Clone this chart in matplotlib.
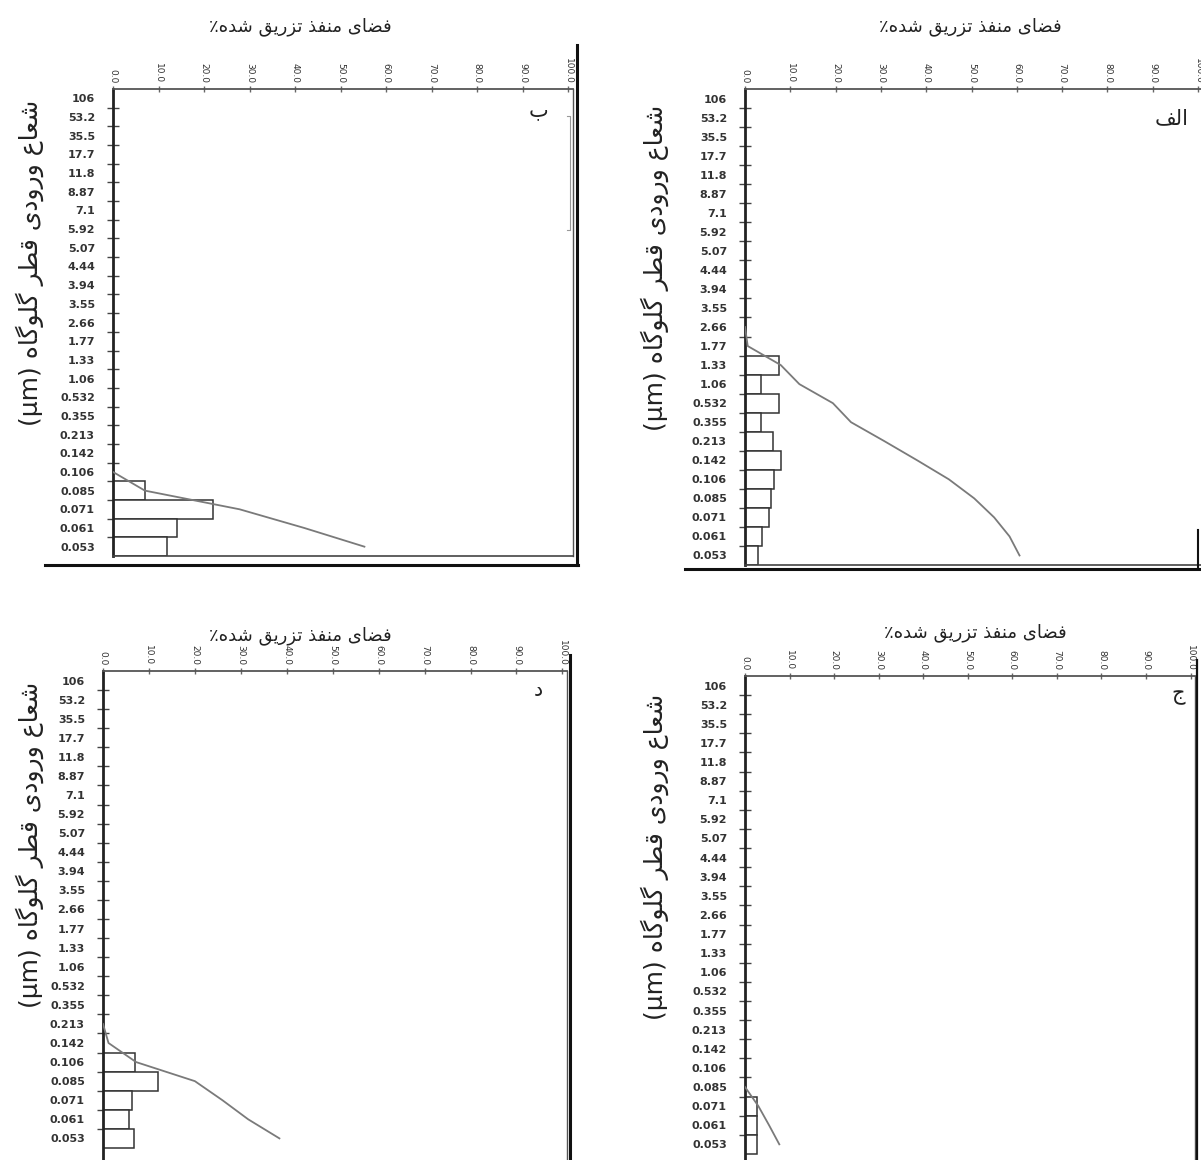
import numpy as np
import matplotlib
matplotlib.use('Agg')
import matplotlib.pyplot as plt

W, H = 1201, 1160

sizes = ['106', '53.2', '35.5', '17.7', '11.8', '8.87', '7.1', '5.92', '5.07', '4.44',
         '3.94', '3.55', '2.66', '1.77', '1.33', '1.06', '0.532', '0.355', '0.213',
         '0.142', '0.106', '0.085', '0.071', '0.061', '0.053']
xticks = [0, 10, 20, 30, 40, 50, 60, 70, 80, 90, 100]

N = None
# panel الف (top right)
alef_bars = [0] * 14 + [7.6, 3.6, 7.6, 3.6, 6.2, 7.9, 6.5, 5.8, 5.2, 3.8, 2.8]
alef_curve = [N] * 12 + [0, 0.6, 7.9, 12.0, 19.4, 23.4, 30.8, 38.0, 45.0, 50.6, 55.0, 58.4, 60.6]
# panel ب (top left)
be_bars = [0] * 21 + [7.1, 21.9, 14.0, 11.8]
be_curve = [N] * 20 + [0, 7.0, 27.8, 42.0, 55.2]
# panel ج (bottom right)
jim_bars = [0] * 22 + [2.6, 2.6, 2.6]
jim_curve = [N] * 21 + [0, 3.0, 5.4, 7.7]
# panel د (bottom left)
dal_bars = [0] * 20 + [7.0, 12.0, 6.4, 5.6, 6.8]
dal_curve = [N] * 18 + [0, 1.2, 7.2, 20.0, 26.0, 31.6, 38.4]

title_txt = 'فضای منفذ تزریق شده٪'
ylabel_txt = 'شعاع ورودی قطر گلوگاه'

# matplotlib does no arabic shaping, so pick the presentation forms by hand
FORMS = {
    'ا': ('\ufe8d', '\ufe8e'),
    'ب': ('\ufe8f', '\ufe90', '\ufe91', '\ufe92'),
    'ت': ('\ufe95', '\ufe96', '\ufe97', '\ufe98'),
    'ج': ('\ufe9d', '\ufe9e', '\ufe9f', '\ufea0'),
    'د': ('\ufea9', '\ufeaa'),
    'ذ': ('\ufeab', '\ufeac'),
    'ر': ('\ufead', '\ufeae'),
    'ز': ('\ufeaf', '\ufeb0'),
    'ش': ('\ufeb5', '\ufeb6', '\ufeb7', '\ufeb8'),
    'ض': ('\ufebd', '\ufebe', '\ufebf', '\ufec0'),
    'ط': ('\ufec1', '\ufec2', '\ufec3', '\ufec4'),
    'ع': ('\ufec9', '\ufeca', '\ufecb', '\ufecc'),
    'ف': ('\ufed1', '\ufed2', '\ufed3', '\ufed4'),
    'ق': ('\ufed5', '\ufed6', '\ufed7', '\ufed8'),
    'ل': ('\ufedd', '\ufede', '\ufedf', '\ufee0'),
    'م': ('\ufee1', '\ufee2', '\ufee3', '\ufee4'),
    'ن': ('\ufee5', '\ufee6', '\ufee7', '\ufee8'),
    'ه': ('\ufee9', '\ufeea', '\ufeeb', '\ufeec'),
    'و': ('\ufeed', '\ufeee'),
    'ی': ('\ufbfc', '\ufbfd', '\ufbfe', '\ufbff'),
    'گ': ('\ufb92', '\ufb93', '\ufb94', '\ufb95'),
}


def fa(text):
    out = []
    for i, ch in enumerate(text):
        forms = FORMS.get(ch)
        if forms is None:
            out.append(ch)
            continue
        prev = FORMS.get(text[i - 1]) if i > 0 else None
        nxt = FORMS.get(text[i + 1]) if i + 1 < len(text) else None
        jp = prev is not None and len(prev) == 4
        jn = nxt is not None and len(forms) == 4
        if jp and jn:
            out.append(forms[3])
        elif jp:
            out.append(forms[1])
        elif jn:
            out.append(forms[2])
        else:
            out.append(forms[0])
    return ''.join(reversed(out))


plt.rcParams['font.family'] = ['DejaVu Sans']
fig = plt.figure(figsize=(W / 100, H / 100), dpi=100)


def fx(x):
    return x / W


def fy(y):
    return 1 - y / H


def panel(box, bars, curve, letter, letter_xy, title_xy, ylab_xy, xmax=101.0, extra=0.0):
    l, t, r, b = box
    ax = fig.add_axes([fx(l), fy(b), fx(r - l), (b - t) / H])
    pos = np.arange(len(sizes))
    bars = np.array(bars, dtype=float)
    m = bars > 0
    ax.barh(pos[m], bars[m], height=1.0, left=0, color='white', edgecolor='#333333', linewidth=1.1, zorder=2)
    cv = np.array(curve, dtype=float)
    ax.plot(cv, pos, color='#7a7a7a', lw=1.3, zorder=3)

    ax.set_ylim(len(sizes) - 0.5 + extra, -0.5)
    ax.set_xlim(0, xmax)
    ax.set_yticks(pos)
    ax.set_yticklabels(sizes, fontsize=8, fontweight='bold', color='#333333')
    ax.set_yticks(np.arange(0.5, len(sizes) - 1, 1), minor=True)
    ax.tick_params(axis='y', which='major', length=0, pad=13)
    ax.tick_params(axis='y', which='minor', direction='inout', length=9, width=1, color='#444444')
    ax.xaxis.tick_top()
    ax.set_xticks(xticks)
    ax.set_xticklabels([f'{v:.1f}' for v in xticks], rotation=-90, fontsize=6.5, color='#333333')
    ax.tick_params(axis='x', direction='inout', length=4, width=1, color='#666666', pad=2)

    ax.spines['left'].set_linewidth(2.0)
    ax.spines['left'].set_color('#222222')
    ax.spines['top'].set_linewidth(1.3)
    ax.spines['top'].set_color('#555555')
    ax.spines['bottom'].set_linewidth(1.2)
    ax.spines['bottom'].set_color('#444444')
    ax.spines['right'].set_linewidth(1.0)
    ax.spines['right'].set_color('#555555')
    if extra:
        ax.spines['bottom'].set_visible(False)

    fig.text(fx(title_xy[0]), fy(title_xy[1]), fa(title_txt), fontsize=13, ha='center', va='center', color='#222222')
    fig.text(fx(ylab_xy[0]), fy(ylab_xy[1]), '(µm) ' + fa(ylabel_txt), fontsize=18, rotation=90,
             ha='center', va='center', color='#222222')
    fig.text(fx(letter_xy[0]), fy(letter_xy[1]), fa(letter), fontsize=15, ha='center', va='center', color='#222222')
    return ax


def frame_line(x0, y0, x1, y1, lw=2.2):
    fig.add_artist(plt.Line2D([fx(x0), fx(x1)], [fy(y0), fy(y1)], color='#111111', lw=lw))


# top left: ب
ax_b = panel((113, 89, 573, 556), be_bars, be_curve, 'ب', (538, 110), (300, 27), (30, 263))
frame_line(45, 565, 578, 565)
frame_line(577, 45, 577, 565)
fig.add_artist(plt.Line2D([fx(567), fx(570), fx(570), fx(567)], [fy(116), fy(116), fy(230), fy(230)],
                          color='#999999', lw=0.8))

# top right: الف
ax_a = panel((745, 89, 1201, 565), alef_bars, alef_curve, 'الف', (1172, 118), (970, 27), (655, 268),
             xmax=(1201 - 745) / 4.53)
ax_a.spines['right'].set_visible(False)
frame_line(685, 569, 1201, 569)
frame_line(1198, 530, 1198, 569, lw=1.5)

# bottom left: د  (bottom of the scan is cut, so the axes run past the edge)
ax_d = panel((103, 671, 567, 1167), dal_bars, dal_curve, 'د', (538, 690), (300, 636), (30, 845), extra=1.0)
frame_line(570, 655, 570, 1160)

# bottom right: ج
ax_j = panel((745, 676, 1195, 1173), jim_bars, jim_curve, 'ج', (1178, 695), (975, 633), (655, 857), extra=1.0)
frame_line(1197, 660, 1197, 1160, lw=1.6)

fig.savefig('out.png', dpi=100, facecolor='white')
